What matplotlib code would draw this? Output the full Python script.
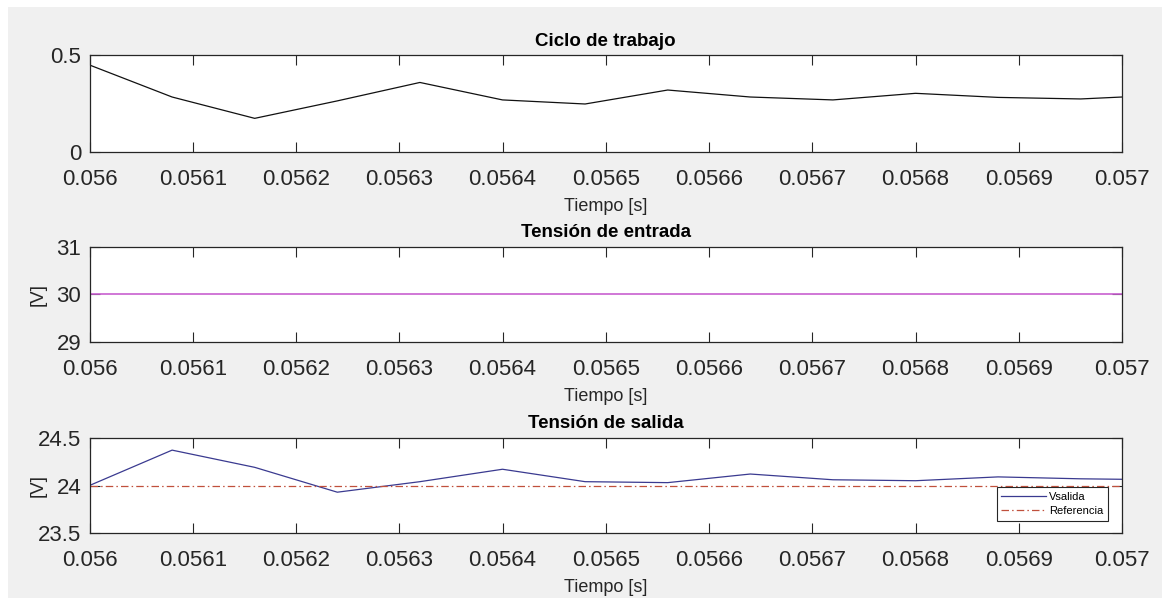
import matplotlib
matplotlib.use("Agg")
import matplotlib.pyplot as plt
from matplotlib.patches import Rectangle

# ---- data ----
t_duty = [0.05600, 0.05608, 0.05616, 0.05624, 0.05632, 0.05640, 0.05648,
          0.05656, 0.05664, 0.05672, 0.05680, 0.05688, 0.05696, 0.05700]
duty = [0.45, 0.285, 0.175, 0.265, 0.36, 0.27, 0.249,
        0.321, 0.285, 0.27, 0.304, 0.283, 0.275, 0.285]

t_in = [0.056, 0.057]
v_in = [30.0, 30.0]

t_out = [0.05600, 0.05608, 0.05616, 0.05624, 0.05632, 0.05640, 0.05648,
         0.05656, 0.05664, 0.05672, 0.05680, 0.05688, 0.05696, 0.05700]
v_out = [24.00, 24.37, 24.19, 23.93, 24.04, 24.17, 24.04,
         24.03, 24.12, 24.06, 24.05, 24.09, 24.07, 24.065]
v_ref = [24.0, 24.0]

xticks = [0.056, 0.0561, 0.0562, 0.0563, 0.0564, 0.0565,
          0.0566, 0.0567, 0.0568, 0.0569, 0.057]
xticklabels = ["0.056", "0.0561", "0.0562", "0.0563", "0.0564", "0.0565",
               "0.0566", "0.0567", "0.0568", "0.0569", "0.057"]

titles = ["Ciclo de trabajo", "Tensión de entrada", "Tensión de salida"]
xlabel = "Tiempo [s]"
ylabel = "[V]"

# ---- style ----
plt.rcParams['font.family'] = ['Liberation Sans', 'DejaVu Sans']
W, H = 1162, 598
fig = plt.figure(figsize=(W / 100, H / 100), dpi=100, facecolor='white')
fig.add_artist(Rectangle((8 / W, 0), 1 - 8 / W, 1 - 7 / H, transform=fig.transFigure,
                         facecolor='#f0f0f0', edgecolor='none', zorder=-10))

axcol = '#262626'
left_px, right_px = 89.5, 1122.0
boxes = [(55.3, 152.3), (246.7, 342.3), (437.7, 533.3)]

axes = []
for (top, bot) in boxes:
    ax = fig.add_axes([left_px / W, 1 - bot / H, (right_px - left_px) / W, (bot - top) / H])
    ax.set_facecolor('white')
    for s in ax.spines.values():
        s.set_color(axcol)
        s.set_linewidth(0.9)
    ax.set_xlim(0.056, 0.057)
    ax.set_xticks(xticks)
    ax.set_xticklabels(xticklabels)
    ax.tick_params(axis='x', direction='in', top=True, bottom=True, length=7.5,
                   width=0.8, colors=axcol, labelsize=16, pad=12)
    ax.tick_params(axis='y', direction='in', left=True, right=True, length=7.5,
                   width=0.8, colors=axcol, labelsize=16, pad=6)
    ax.set_xlabel(xlabel, fontsize=13, color=axcol)
    ax.xaxis.set_label_coords(0.5, -54.0 / (bot - top))
    ax.xaxis.label.set_va('center')
    axes.append(ax)

ax1, ax2, ax3 = axes

ax1.plot(t_duty, duty, color='#111111', lw=0.9)
ax1.set_ylim(0, 0.5)
ax1.set_yticks([0, 0.5])
ax1.set_yticklabels(["0", "0.5"])
ax1.set_title(titles[0], fontsize=13.5, fontweight='bold', pad=7)

ax2.plot(t_in, v_in, color='#c860d0', lw=1.2)
ax2.set_ylim(29, 31)
ax2.set_yticks([29, 30, 31])
ax2.set_yticklabels(["29", "30", "31"])
ax2.set_title(titles[1], fontsize=13.5, fontweight='bold', pad=7)

ax3.plot(t_out, v_out, color='#3a3a90', lw=0.9, label='Vsalida')
ax3.plot(t_in, v_ref, color='#c0503c', lw=0.9, linestyle=(0, (6, 2.5, 1.2, 2.5)),
         label='Referencia')
ax3.set_ylim(23.5, 24.5)
ax3.set_yticks([23.5, 24, 24.5])
ax3.set_yticklabels(["23.5", "24", "24.5"])
ax3.set_title(titles[2], fontsize=13.5, fontweight='bold', pad=7)

for ax in (ax2, ax3):
    ax.set_ylabel(ylabel, fontsize=13.5, color=axcol)
    ax.yaxis.set_label_coords(-51.5 / (right_px - left_px), 0.5)
    ax.yaxis.label.set_va('center')

leg = ax3.legend(loc='lower right', bbox_to_anchor=(0.986, 0.132), borderaxespad=0,
                 fontsize=8, handlelength=4.0, handletextpad=0.3, labelspacing=0.4,
                 borderpad=0.4, fancybox=False, framealpha=1, edgecolor=axcol)
leg.get_frame().set_linewidth(0.8)

fig.savefig("out.png", dpi=100, facecolor=fig.get_facecolor())
